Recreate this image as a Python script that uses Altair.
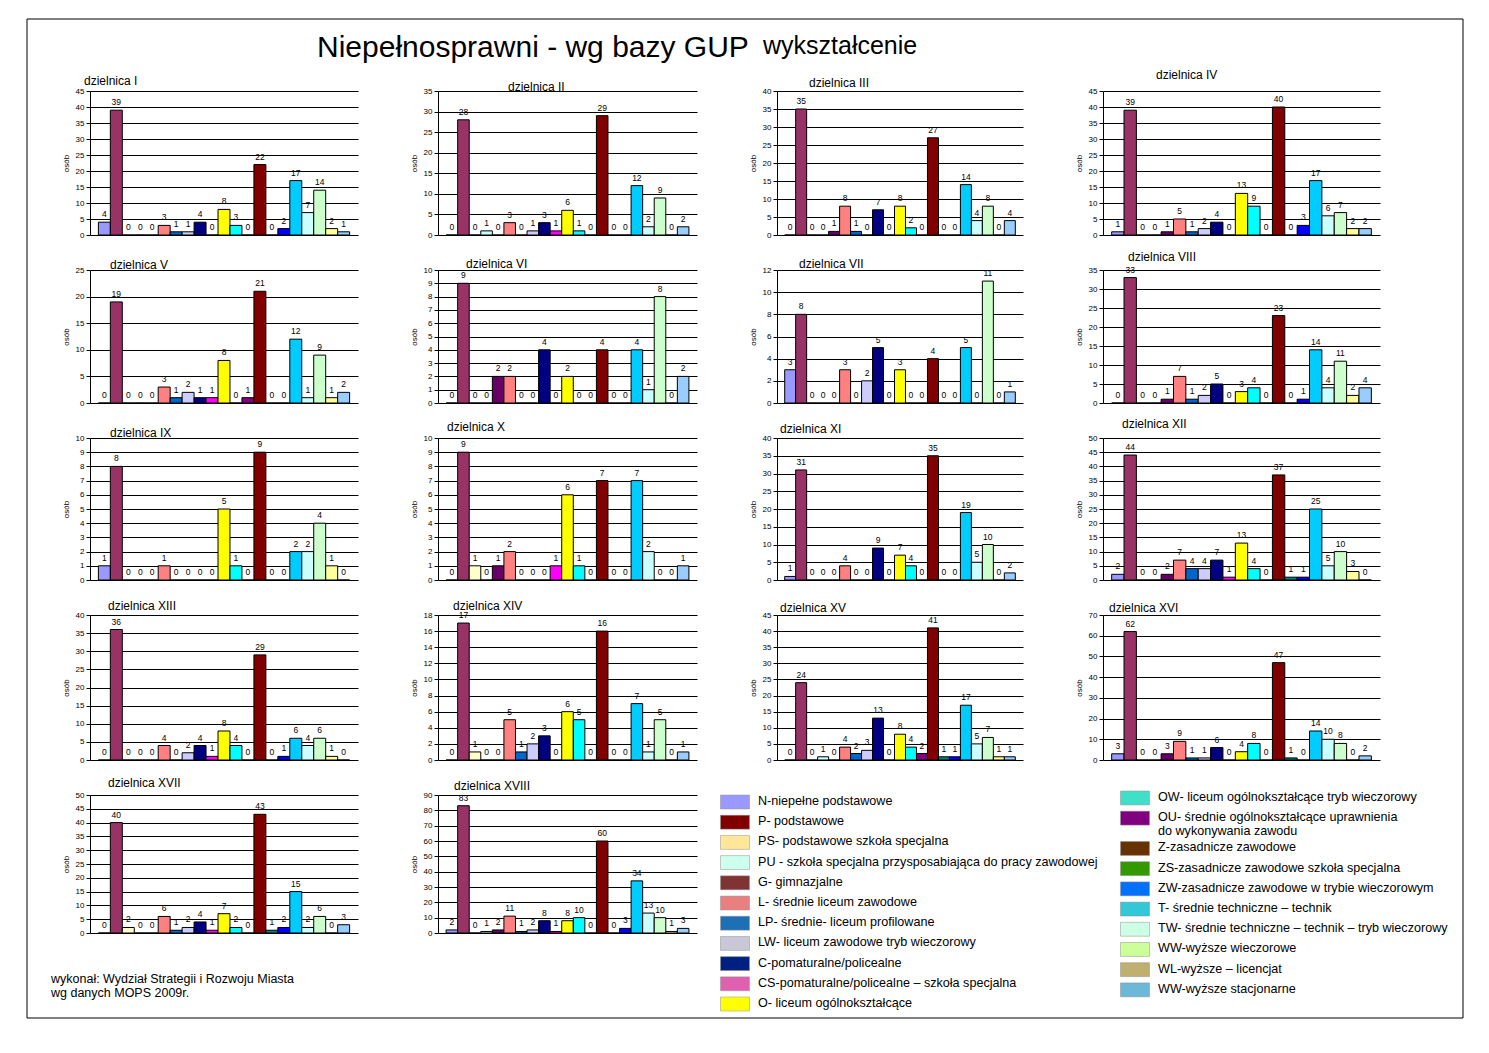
import altair as alt
import pandas as pd

FONT = "Liberation Sans"

main_title = "Niepełnosprawni - wg bazy GUP"
sub_title = "wykształcenie"
footer_text = "wykonał: Wydział Strategii i Rozwoju Miasta\nwg danych MOPS 2009r."
axis_title = "osób"

districts = ["dzielnica I", "dzielnica II", "dzielnica III", "dzielnica IV",
             "dzielnica V", "dzielnica VI", "dzielnica VII", "dzielnica VIII",
             "dzielnica IX", "dzielnica X", "dzielnica XI", "dzielnica XII",
             "dzielnica XIII", "dzielnica XIV", "dzielnica XV", "dzielnica XVI",
             "dzielnica XVII", "dzielnica XVIII"]

# 21 series per district, in the order the bars are drawn
series_index = list(range(21))
bar_colors = ["#9999FF", "#993366", "#FFFFCC", "#CCFFFF", "#660066", "#FF8080",
              "#0066CC", "#CCCCFF", "#000080", "#FF00FF", "#FFFF00", "#00FFFF",
              "#800080", "#800000", "#008080", "#0000FF", "#00CCFF", "#CCFFFF",
              "#CCFFCC", "#FFFF99", "#99CCFF"]

v_I = [4, 39, 0, 0, 0, 3, 1, 1, 4, 0, 8, 3, 0, 22, 0, 2, 17, 7, 14, 2, 1]
v_II = [0, 28, 0, 1, 0, 3, 0, 1, 3, 1, 6, 1, 0, 29, 0, 0, 12, 2, 9, 0, 2]
v_III = [0, 35, 0, 0, 1, 8, 1, 0, 7, 0, 8, 2, 0, 27, 0, 0, 14, 4, 8, 0, 4]
v_IV = [1, 39, 0, 0, 1, 5, 1, 2, 4, 0, 13, 9, 0, 40, 0, 3, 17, 6, 7, 2, 2]
v_V = [0, 19, 0, 0, 0, 3, 1, 2, 1, 1, 8, 0, 1, 21, 0, 0, 12, 1, 9, 1, 2]
v_VI = [0, 9, 0, 0, 2, 2, 0, 0, 4, 0, 2, 0, 0, 4, 0, 0, 4, 1, 8, 0, 2]
v_VII = [3, 8, 0, 0, 0, 3, 0, 2, 5, 0, 3, 0, 0, 4, 0, 0, 5, 0, 11, 0, 1]
v_VIII = [0, 33, 0, 0, 1, 7, 1, 2, 5, 0, 3, 4, 0, 23, 0, 1, 14, 4, 11, 2, 4]
v_IX = [1, 8, 0, 0, 0, 1, 0, 0, 0, 0, 5, 1, 0, 9, 0, 0, 2, 2, 4, 1, 0]
v_X = [0, 9, 1, 0, 1, 2, 0, 0, 0, 1, 6, 1, 0, 7, 0, 0, 7, 2, 0, 0, 1]
v_XI = [1, 31, 0, 0, 0, 4, 0, 0, 9, 0, 7, 4, 0, 35, 0, 0, 19, 5, 10, 0, 2]
v_XII = [2, 44, 0, 0, 2, 7, 4, 4, 7, 1, 13, 4, 0, 37, 1, 1, 25, 5, 10, 3, 0]
v_XIII = [0, 36, 0, 0, 0, 4, 0, 2, 4, 1, 8, 4, 0, 29, 0, 1, 6, 4, 6, 1, 0]
v_XIV = [0, 17, 1, 0, 0, 5, 1, 2, 3, 0, 6, 5, 0, 16, 0, 0, 7, 1, 5, 0, 1]
v_XV = [0, 24, 0, 1, 0, 4, 2, 3, 13, 0, 8, 4, 2, 41, 1, 1, 17, 5, 7, 1, 1]
v_XVI = [3, 62, 0, 0, 3, 9, 1, 1, 6, 0, 4, 8, 0, 47, 1, 0, 14, 10, 8, 0, 2]
v_XVII = [0, 40, 2, 0, 0, 6, 1, 2, 4, 1, 7, 2, 0, 43, 1, 2, 15, 2, 6, 0, 3]
v_XVIII = [2, 83, 0, 1, 2, 11, 1, 2, 8, 1, 8, 10, 0, 60, 0, 3, 34, 13, 10, 1, 3]

all_values = [v_I, v_II, v_III, v_IV, v_V, v_VI, v_VII, v_VIII, v_IX, v_X,
              v_XI, v_XII, v_XIII, v_XIV, v_XV, v_XVI, v_XVII, v_XVIII]

y_max = [45, 35, 40, 45, 25, 10, 12, 35, 10, 10, 40, 50, 40, 18, 45, 70, 50, 90]
y_step = [5, 5, 5, 5, 5, 1, 2, 5, 1, 1, 5, 5, 5, 2, 5, 10, 5, 10]

legend_left = ["N-niepełne podstawowe",
               "P- podstawowe",
               "PS- podstawowe szkoła specjalna",
               "PU - szkoła specjalna przysposabiająca do pracy zawodowej",
               "G- gimnazjalne",
               "L- średnie liceum zawodowe",
               "LP- średnie- liceum profilowane",
               "LW- liceum zawodowe tryb wieczorowy",
               "C-pomaturalne/policealne",
               "CS-pomaturalne/policealne – szkoła specjalna",
               "O- liceum ogólnokształcące"]
legend_left_colors = ["#9999FF", "#800000", "#FFE699", "#CCFFEE", "#803333",
                      "#E88080", "#1F6FB5", "#C8C8D8", "#002080", "#E060B0",
                      "#FFFF00"]
legend_right = ["OW- liceum ogólnokształcące tryb wieczorowy",
                "OU- średnie ogólnokształcące uprawnienia\ndo wykonywania zawodu",
                "Z-zasadnicze zawodowe",
                "ZS-zasadnicze zawodowe szkoła specjalna",
                "ZW-zasadnicze zawodowe w trybie wieczorowym",
                "T- średnie techniczne – technik",
                "TW- średnie techniczne – technik – tryb wieczorowy",
                "WW-wyższe wieczorowe",
                "WL-wyższe – licencjat",
                "WW-wyższe stacjonarne"]
legend_right_colors = ["#40E0C8", "#800080", "#663300", "#339900", "#0070FF",
                       "#33C8D8", "#CCFFE6", "#CCFF99", "#C0B070", "#6BB8D8"]

# ---- layout / style (not data) ----
col_widths = [268, 259, 246, 277]
row_heights = [144, 133, 142, 145, 138]
title_dx = [-6, 70, 32, 53, 20, 28, 22, 25, 20, 9, 3, 19, 18, 15, 3, 6, 18, 16]
title_dy = [-10, -4, -8, -16, -5, -6, -6, -13, -5, -11, -9, -14, -9, -9, -7, -7, -12, -9]


def panel(k):
    df = pd.DataFrame({"idx": series_index, "value": all_values[k],
                       "fill": bar_colors})
    ticks = list(range(0, y_max[k] + 1, y_step[k]))
    base = alt.Chart(df).encode(
        x=alt.X("idx:O", axis=None,
                scale=alt.Scale(paddingInner=0, paddingOuter=0.7)),
        y=alt.Y("value:Q",
                scale=alt.Scale(domain=[0, y_max[k]], nice=False),
                axis=alt.Axis(values=ticks, grid=True, gridColor="black",
                              gridWidth=1, domainColor="black", tickColor="black",
                              tickSize=4, labelFontSize=8, labelColor="black",
                              labelPadding=2, labelOverlap=False, format="d",
                              title=axis_title, titleFontSize=8,
                              titleFontWeight="normal", titleColor="black",
                              titlePadding=5)),
    )
    bars = base.mark_bar(stroke="black", strokeWidth=1).encode(
        color=alt.Color("fill:N", scale=None, legend=None))
    labels = base.mark_text(baseline="bottom", dy=-3, fontSize=8.5,
                            color="black").encode(text="value:Q")
    title = alt.Chart(pd.DataFrame({"t": [districts[k]]})).mark_text(
        align="left", baseline="middle", fontSize=12, color="black").encode(
        x=alt.value(title_dx[k]), y=alt.value(title_dy[k]), text="t:N")
    layers = [bars, labels, title]
    if k == 0:
        one = pd.DataFrame({"t": [main_title]})
        border = alt.Chart(one).mark_rect(fillOpacity=0, stroke="black",
                                          strokeWidth=1).encode(
            x=alt.value(-63), x2=alt.value(1373),
            y=alt.value(-72), y2=alt.value(927))
        t1 = alt.Chart(one).mark_text(align="left", baseline="middle",
                                      fontSize=30, color="black").encode(
            x=alt.value(227), y=alt.value(-43), text="t:N")
        t2 = alt.Chart(pd.DataFrame({"t": [sub_title]})).mark_text(
            align="left", baseline="middle", fontSize=25, color="black").encode(
            x=alt.value(673), y=alt.value(-45), text="t:N")
        layers += [border, t1, t2]
    if k == 16:
        foot = alt.Chart(pd.DataFrame({"t": [footer_text]})).mark_text(
            align="left", baseline="top", fontSize=12.5, lineHeight=14,
            lineBreak="\n", color="black").encode(
            x=alt.value(-39), y=alt.value(178), text="t:N")
        layers.append(foot)
    return alt.layer(*layers).properties(
        width=col_widths[k % 4],
        height=row_heights[k // 4],
    )


# legend chart
leg_rows = []
for i, (lab, c) in enumerate(zip(legend_left, legend_left_colors)):
    leg_rows.append({"label": lab, "fill": c, "col": 0, "slot": i})
for i, (lab, c) in enumerate(zip(legend_right, legend_right_colors)):
    leg_rows.append({"label": lab, "fill": c, "col": 1,
                     "slot": i + (0.5 if i >= 2 else 0) - 0.2})
leg_df = pd.DataFrame(leg_rows)

leg_base = alt.Chart(leg_df).encode(
    x=alt.X("col:Q", axis=None, scale=alt.Scale(domain=[0, 1], range=[-42, 358])),
    y=alt.Y("slot:Q", axis=None, scale=alt.Scale(domain=[0, 10], range=[7, 209])),
)
swatch = leg_base.mark_point(shape="M-1,-0.48H1V0.48H-1Z", size=841, filled=True,
                             opacity=1, stroke="#909090", strokeWidth=0.5).encode(
    color=alt.Color("fill:N", scale=None, legend=None))
leg_text = leg_base.mark_text(align="left", baseline="top", dx=23, dy=-7,
                              fontSize=12.6, lineHeight=14, lineBreak="\n",
                              color="black").encode(text="label:N")
legend = alt.layer(swatch, leg_text).properties(width=col_widths[2],
                                                height=row_heights[4])

panels = [panel(k) for k in range(18)]

chart = alt.concat(*panels, legend, columns=4,
                   spacing={"row": 35, "column": 80},
                   bounds="flush", align="each").properties(
    padding={"left": 18, "top": 10, "right": 5, "bottom": 5},
    background="white",
).configure(font=FONT).configure_view(strokeWidth=0)

chart.save("out.html", embed_options={"renderer": "svg", "actions": False})
